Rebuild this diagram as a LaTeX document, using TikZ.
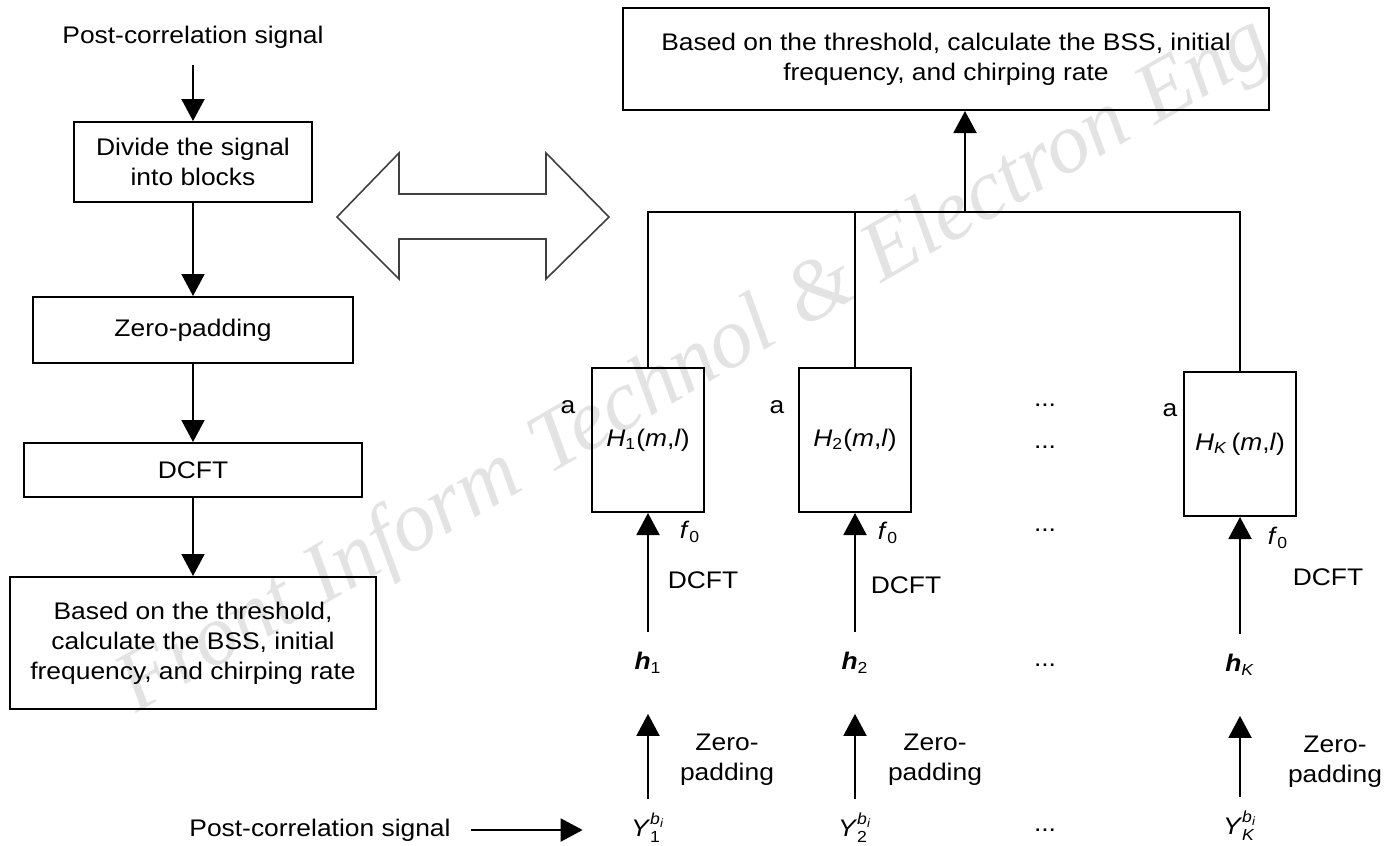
\documentclass[tikz,border=0pt]{standalone}
\usepackage{fontspec}
\usepackage{amsmath}
\setmainfont{Liberation Sans}[FakeStretch=1.1]
\newfontfamily\wmfont{Liberation Serif}
\usetikzlibrary{arrows.meta}
\tikzset{
    blk/.style={draw, line width=1pt, align=center, inner sep=0pt},
    hblk/.style={blk, minimum width=56pt, minimum height=72pt},
    lbl/.style={inner sep=2pt, align=center},
    wire/.style={line width=1pt},
    arr/.style={line width=1pt, -{Triangle[length=11pt, width=11.5pt]}},
    wmark/.style={rotate=30, anchor=base, inner sep=0pt, text=gray!22, font=\wmfont\itshape\fontsize{43}{43}\selectfont}
}
\newcommand{\yvar}[1]{\textit{Y}$_{#1}^{\textit{b}_{\textit{i}}}$}

\begin{document}
\begin{tikzpicture}[x=0.5pt, y=-0.5pt, every node/.style={font=\fontsize{12}{15}\selectfont}]

	\useasboundingbox (0,0) rectangle (1387,846);

	\node[wmark] (wm1) at (220,665) {Front};
	\node[wmark] (wm2) at (425,547) {Inform};
	\node[wmark] (wm3) at (665,408) {Technol};
	\node[wmark] (wm4) at (832,312) {\&};
	\node[wmark] (wm5) at (1008,210) {Electron};
	\node[wmark] (wm6) at (1215,91) {Eng};

	% left column
	\node[lbl] (src) at (193,37) {Post-correlation signal};
	\node[blk, minimum width=119pt, minimum height=40pt] (split) at (193,162) {Divide the signal\\into blocks};
	\node[blk, minimum width=160pt, minimum height=33pt] (pad) at (193,330) {Zero-padding};
	\node[blk, minimum width=169pt, minimum height=27pt] (dcft) at (193,470) {DCFT};
	\node[blk, minimum width=183pt, minimum height=66pt] (est) at (193,643) {Based on the threshold,\\calculate the BSS, initial\\frequency, and chirping rate};

	\draw[arr, shorten <=6pt] (src) -- (split);
	\draw[arr] (split) -- (pad);
	\draw[arr] (pad) -- (dcft);
	\draw[arr] (dcft) -- (est);

	\draw[line width=0.8pt, black!75, line join=miter]
	(337,217) -- (399,153) -- (399,194) -- (546,194) -- (546,153)
	-- (609,217) -- (546,279) -- (546,239) -- (399,239) -- (399,279) -- cycle;

	% right part
	\node[blk, minimum width=323pt, minimum height=51pt] (res) at (946,59) {Based on the threshold, calculate the BSS, initial\\frequency, and chirping rate};
	\coordinate (bus) at (965,212);

	\node[hblk] (H1) at (648,440) {\textit{H}\textsubscript{1}(\textit{m},\textit{l})};
	\node[hblk] (H2) at (855,440) {\textit{H}\textsubscript{2}(\textit{m},\textit{l})};
	\node[hblk] (HK) at (1240,444) {\textit{H}\textsubscript{\textit{K}}\,(\textit{m},\textit{l})};

	\node[lbl] (a1) at (568,407) {a};
	\node[lbl] (a2) at (777,407) {a};
	\node[lbl] (aK) at (1170,410) {a};

	\node[lbl] (f1) at (690,532) {\textit{f}\textsubscript{0}};
	\node[lbl] (f2) at (888,533) {\textit{f}\textsubscript{0}};
	\node[lbl] (fK) at (1278,538) {\textit{f}\textsubscript{0}};

	\node[lbl] (d1) at (703,580) {DCFT};
	\node[lbl] (d2) at (906,585) {DCFT};
	\node[lbl] (dK) at (1328,577) {DCFT};

	\node[lbl] (h1) at (648,663) {\textbf{\textit{h}}\textsubscript{1}};
	\node[lbl] (h2) at (855,663) {\textbf{\textit{h}}\textsubscript{2}};
	\node[lbl] (hK) at (1240,665) {\textbf{\textit{h}}\textsubscript{\textit{K}}};

	\node[lbl] (z1) at (727,760) {Zero-\\padding};
	\node[lbl] (z2) at (935,760) {Zero-\\padding};
	\node[lbl] (zK) at (1335,762) {Zero-\\padding};

	\node[lbl] (Y1) at (648,828) {\yvar{\text{1}}};
	\node[lbl] (Y2) at (855,828) {\yvar{\text{2}}};
	\node[lbl] (YK) at (1240,826) {\yvar{\textit{K}}};

	\node[lbl] (e1) at (1045,405) {...};
	\node[lbl] (e2) at (1045,447) {...};
	\node[lbl] (e3) at (1045,530) {...};
	\node[lbl] (e4) at (1045,665) {...};
	\node[lbl] (e5) at (1045,830) {...};

	\node[lbl] (src2) at (320,830) {Post-correlation signal};

	\draw[wire] (H1.north) |- (bus -| HK.north) -- (HK.north);
	\draw[wire] (H2.north) -- (H2.north |- bus);
	\draw[arr] (bus) -- (bus |- res.south);

	\draw[arr, shorten <=8pt] (h1.north) -- (H1.south);
	\draw[arr, shorten <=8pt] (h2.north) -- (H2.south);
	\draw[arr, shorten <=8pt] (hK.north) -- (HK.south);

	\draw[arr, shorten <=5pt, shorten >=18pt] (Y1.north) -- (h1.south);
	\draw[arr, shorten <=5pt, shorten >=18pt] (Y2.north) -- (h2.south);
	\draw[arr, shorten <=5pt, shorten >=18pt] (YK.north) -- (hK.south);

	\draw[arr, shorten <=8pt, shorten >=22pt] (src2.east) -- (src2.east -| Y1.west);

\end{tikzpicture}
\end{document}
